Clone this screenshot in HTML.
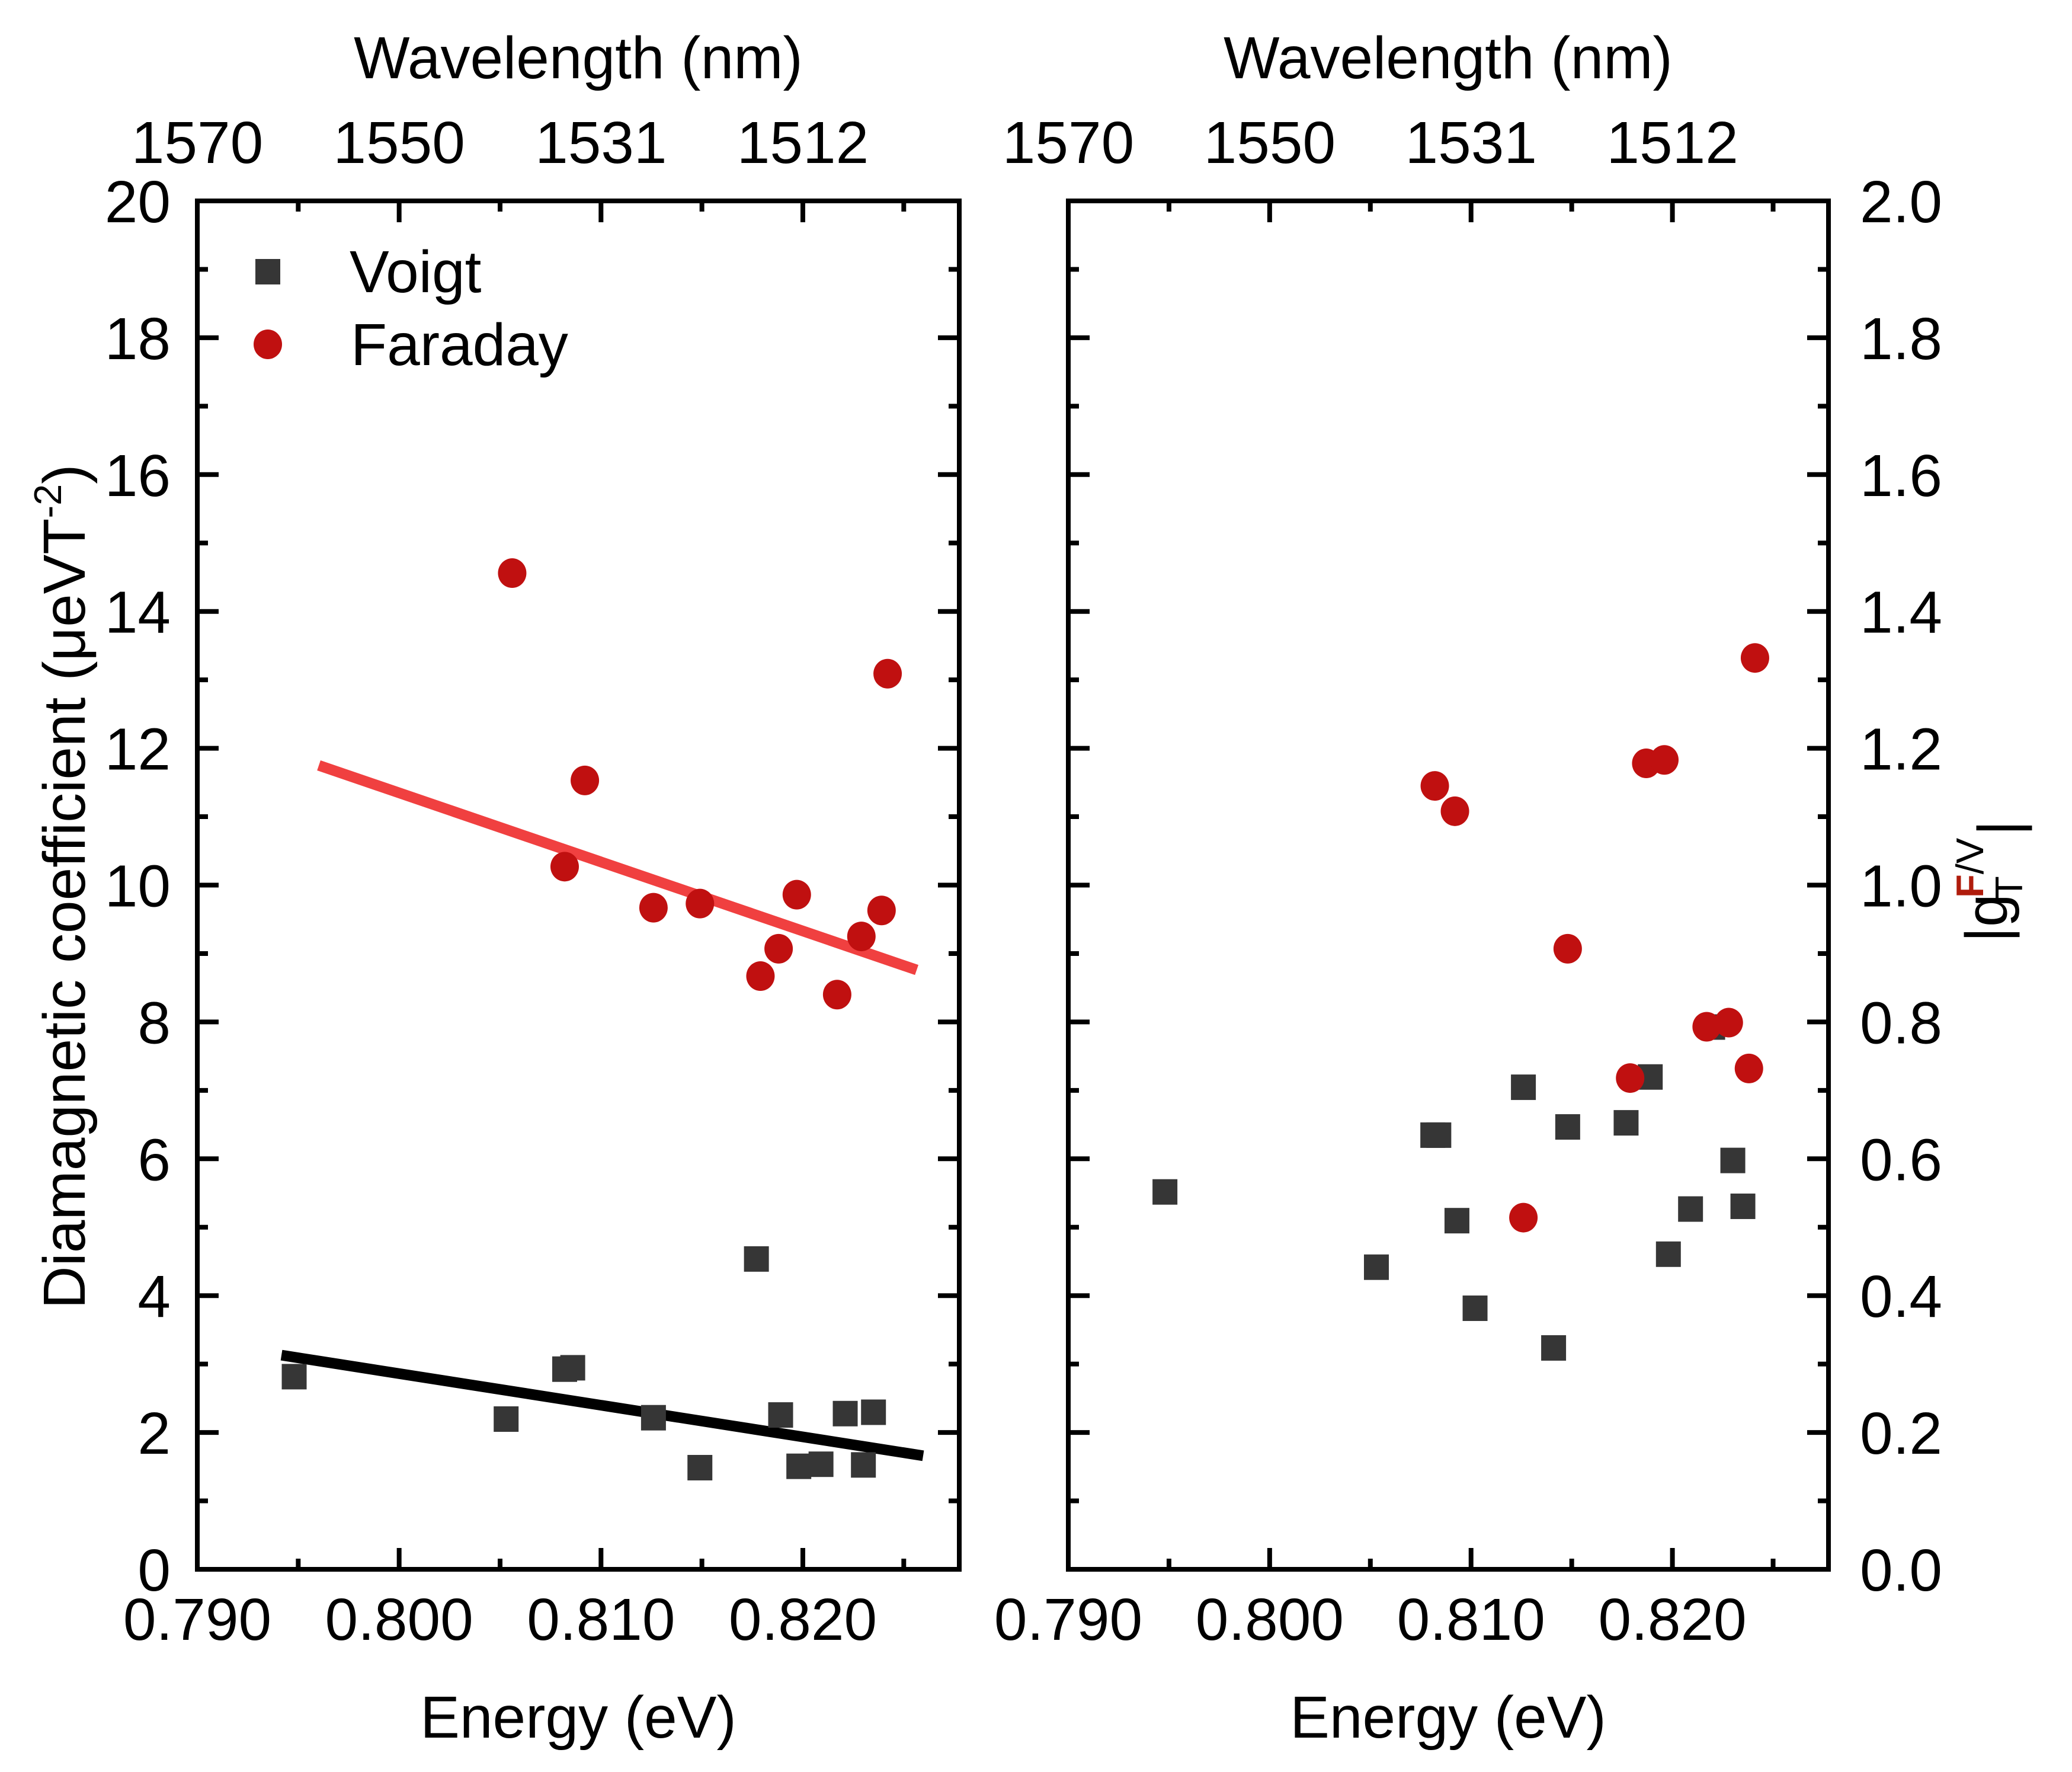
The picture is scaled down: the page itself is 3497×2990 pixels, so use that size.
<!DOCTYPE html>
<html><head><meta charset="utf-8"><style>
html,body{margin:0;padding:0;background:#fff;}
svg{display:block;font-family:"Liberation Sans",Arial,sans-serif;}
</style></head><body>
<svg id="chart" xmlns="http://www.w3.org/2000/svg" width="3497" height="2990" viewBox="0 0 3497 2990">
<rect width="3497" height="2990" fill="#fff"/>
<g id="axes"></g>
<g id="marks"></g>
<g id="texts">
  <text x="976" y="132" font-size="100" text-anchor="middle">Wavelength (nm)</text>
  <text x="2444" y="132" font-size="100" text-anchor="middle">Wavelength (nm)</text>
  <text x="976" y="2932" font-size="100" text-anchor="middle">Energy (eV)</text>
  <text x="2444" y="2932" font-size="100" text-anchor="middle">Energy (eV)</text>
  <text transform="translate(143,1496) rotate(-90)" font-size="100" text-anchor="middle">Diamagnetic coefficient (μeVT<tspan font-size="65" dy="-40">-2</tspan><tspan dy="40">)</tspan></text>
  <g>
    <text transform="translate(3387,1590) rotate(-90)" font-size="100">|g</text>
    <text transform="translate(3413,1518) rotate(-90)" font-size="65">T</text>
    <text transform="translate(3347,1515) rotate(-90)" font-size="65"><tspan fill="#b01c0c" font-weight="bold">F</tspan>/V</text>
    <text transform="translate(3408,1410) rotate(-90)" font-size="100">|</text>
  </g>
  <g>
    <rect x="431" y="437" width="42" height="43" fill="#363636"/>
    <text x="590" y="493" font-size="100">Voigt</text>
    <ellipse cx="452" cy="581" rx="24" ry="25" fill="#c01010"/>
    <text x="592" y="616" font-size="100">Faraday</text>
  </g>
</g>
</svg>
<script>
// ---- data ----
const voigtE   = [0.7948,0.8053,0.8082,0.8086,0.8126,0.8149,0.8177,0.8189,0.8198,0.8209,0.8221,0.8230,0.8235];
const voigtDia = [2.82,2.20,2.93,2.95,2.22,1.49,4.54,2.26,1.51,1.54,2.28,1.53,2.30];
const faraE    = [0.8056,0.8082,0.8092,0.8126,0.8149,0.8179,0.8188,0.8197,0.8217,0.8229,0.8239,0.8242];
const faraDia  = [14.56,10.27,11.53,9.67,9.73,8.67,9.07,9.86,8.40,9.25,9.63,13.09];
const redFitE  = [0.79602,0.82564];
const redFitY  = [11.75,8.76];
const blackFitE= [0.79417,0.82596];
const blackFitY= [3.13,1.66];
const gVoigtE  = [0.7948,0.8053,0.8081,0.8084,0.8093,0.8102,0.8126,0.8141,0.8148,0.8177,0.8189,0.8198,0.8209,0.8220,0.8230,0.8235];
const gVoigt   = [0.552,0.442,0.635,0.635,0.510,0.382,0.705,0.324,0.647,0.653,0.720,0.461,0.527,0.793,0.598,0.531];
const gFaraE   = [0.8082,0.8092,0.8126,0.8148,0.8179,0.8187,0.8196,0.8217,0.8228,0.8238,0.8241];
const gFara    = [1.145,1.108,0.514,0.907,0.718,1.178,1.183,0.793,0.799,0.732,1.332];
const xTickVals   = [0.790,0.800,0.810,0.820];
const xTickLabels = ["0.790","0.800","0.810","0.820"];
const xMinorVals  = [0.795,0.805,0.815,0.825];
const wlLabels    = ["1570","1550","1531","1512"];
const yLeftTicks  = [0,2,4,6,8,10,12,14,16,18,20];
const yRightTicks = ["0.0","0.2","0.4","0.6","0.8","1.0","1.2","1.4","1.6","1.8","2.0"];

// ---- geometry ----
const NS="http://www.w3.org/2000/svg";
const Y0=2648, Y1=339, XMIN=0.790, XMAX=0.82775;
const panels=[{x0:333,x1:1619,name:'left'},{x0:1803,x1:3086,name:'right'}];
function xs(p,e){return p.x0+(e-XMIN)/(XMAX-XMIN)*(p.x1-p.x0);}
function ysL(v){return Y0-(v/20)*(Y0-Y1);}
function ysR(v){return Y0-(v/2)*(Y0-Y1);}
function mk(tag,attrs,parent){const el=document.createElementNS(NS,tag);for(const k in attrs)el.setAttribute(k,attrs[k]);parent.appendChild(el);return el;}
const axes=document.getElementById('axes'), marks=document.getElementById('marks');

panels.forEach((p,pi)=>{
  const fr=mk('rect',{x:p.x0,y:Y1,width:p.x1-p.x0,height:Y0-Y1,fill:'none',stroke:'#000','stroke-width':8},axes);
  
  
  // x ticks bottom & top
  xTickVals.forEach((v,i)=>{
    const x=xs(p,v);
    const t1=mk('line',{x1:x,x2:x,y1:Y0,y2:Y0-36,stroke:'#000','stroke-width':8},axes);
    
    
    const t2=mk('line',{x1:x,x2:x,y1:Y1,y2:Y1+36,stroke:'#000','stroke-width':8},axes);
    
    
    const lb=mk('text',{x:x,y:2767,'font-size':100,'text-anchor':'middle'},axes);
    lb.textContent=xTickLabels[i];
    
    
    const wl=mk('text',{x:x,y:275,'font-size':100,'text-anchor':'middle'},axes);
    wl.textContent=wlLabels[i];
    
    
  });
  xMinorVals.forEach(v=>{
    const x=xs(p,v);
    const a=mk('line',{x1:x,x2:x,y1:Y0,y2:Y0-18,stroke:'#000','stroke-width':8},axes);
    
    
    const b=mk('line',{x1:x,x2:x,y1:Y1,y2:Y1+18,stroke:'#000','stroke-width':8},axes);
    
    
  });
  // y ticks (both sides inward)
  for(let k=0;k<=20;k++){
    const y=ysL(k); const len=(k%2===0)?36:18;
    const a=mk('line',{x1:p.x0,x2:p.x0+len,y1:y,y2:y,stroke:'#000','stroke-width':8},axes);
    
    
    const b=mk('line',{x1:p.x1,x2:p.x1-len,y1:y,y2:y,stroke:'#000','stroke-width':8},axes);
    
    
  }
});
yLeftTicks.forEach(v=>{
  const t=mk('text',{x:288,y:ysL(v)+36,'font-size':100,'text-anchor':'end'},axes);
  t.textContent=String(v);
  
  
});
yRightTicks.forEach(s=>{
  const t=mk('text',{x:3139,y:ysR(parseFloat(s))+36,'font-size':100},axes);
  t.textContent=s;
  
  
});

// fit lines
const PL=panels[0], PR=panels[1];
const rl=mk('line',{x1:xs(PL,redFitE[0]),y1:ysL(redFitY[0]),x2:xs(PL,redFitE[1]),y2:ysL(redFitY[1]),stroke:'#f04040','stroke-width':18},marks);


const bl=mk('line',{x1:xs(PL,blackFitE[0]),y1:ysL(blackFitY[0]),x2:xs(PL,blackFitE[1]),y2:ysL(blackFitY[1]),stroke:'#000','stroke-width':18},marks);



function square(x,y,name){const r=mk('rect',{x:x-21,y:y-21,width:42,height:43,fill:'#363636'},marks);
  
  }
function dot(x,y,name){const c=mk('ellipse',{cx:x,cy:y,rx:24,ry:25,fill:'#c01010'},marks);
  
  }
voigtE.forEach((e,i)=>square(xs(PL,e),ysL(voigtDia[i]),'voigt-point'));
faraE.forEach((e,i)=>dot(xs(PL,e),ysL(faraDia[i]),'faraday-point'));
gVoigtE.forEach((e,i)=>square(xs(PR,e),ysR(gVoigt[i]),'g-voigt-point'));
gFaraE.forEach((e,i)=>dot(xs(PR,e),ysR(gFara[i]),'g-faraday-point'));
</script>
</body></html>
